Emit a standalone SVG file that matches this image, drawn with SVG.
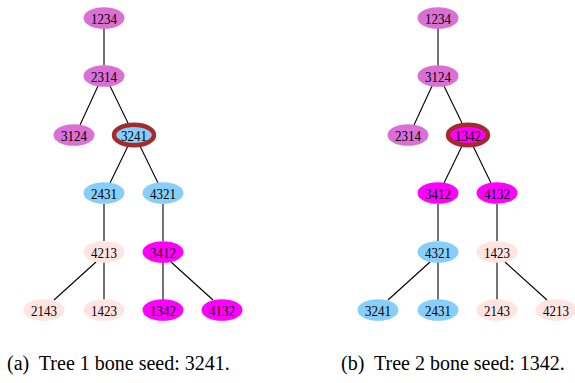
<svg xmlns="http://www.w3.org/2000/svg" width="575" height="383" viewBox="0 0 575 383">
  <style>
    .n ellipse { stroke: none; }
    .n text { font-family: "Liberation Serif", "Times New Roman", serif; font-size: 15.5px; text-anchor: middle; dominant-baseline: central; fill: #000; }
    .orchid { fill: #DA70D6; }
    .sky { fill: #87CEFA; }
    .rose { fill: #FFE4E1; }
    .mag { fill: #FF00FF; }
    .seed { stroke: #A52A2A !important; stroke-width: 4.5; }
    .edges line { stroke: #000; stroke-width: 1.1; }
    .cap { font-family: "Liberation Serif", "Times New Roman", serif; font-size: 20px; fill: #000; white-space: pre; }
  </style>

  <rect width="575" height="383" fill="#fff"/>

  <!-- Tree 1 connectors -->
  <g id="edges1" class="edges">
    <line x1="104" y1="28" x2="104" y2="66"/>
    <line x1="98" y1="86" x2="80" y2="125"/>
    <line x1="110" y1="86" x2="128" y2="123"/>
    <line x1="128" y1="146" x2="110" y2="183"/>
    <line x1="140" y1="146" x2="158" y2="183"/>
    <line x1="104" y1="204" x2="104" y2="241"/>
    <line x1="163" y1="204" x2="163" y2="241"/>
    <line x1="96" y1="262" x2="54" y2="300"/>
    <line x1="104" y1="262" x2="104" y2="300"/>
    <line x1="163" y1="262" x2="163" y2="300"/>
    <line x1="171" y1="262" x2="213" y2="300"/>
  </g>

  <!-- Tree 2 connectors -->
  <g id="edges2" class="edges">
    <line x1="438" y1="28" x2="438" y2="66"/>
    <line x1="432" y1="86" x2="414" y2="125"/>
    <line x1="444" y1="86" x2="462" y2="123"/>
    <line x1="462" y1="146" x2="444" y2="183"/>
    <line x1="473" y1="146" x2="491" y2="183"/>
    <line x1="438" y1="204" x2="438" y2="241"/>
    <line x1="497" y1="204" x2="497" y2="241"/>
    <line x1="430" y1="262" x2="388" y2="300"/>
    <line x1="438" y1="262" x2="438" y2="300"/>
    <line x1="497" y1="262" x2="497" y2="300"/>
    <line x1="505" y1="262" x2="547" y2="300"/>
  </g>

  <!-- Tree 1 nodes -->
  <g id="t1-1234" class="n"><ellipse class="orchid" cx="104" cy="18" rx="20.5" ry="10.8"/><text x="104" y="18" textLength="26" lengthAdjust="spacingAndGlyphs">1234</text></g>
  <g id="t1-2314" class="n"><ellipse class="orchid" cx="104" cy="76" rx="20.5" ry="10.8"/><text x="104" y="76" textLength="26" lengthAdjust="spacingAndGlyphs">2314</text></g>
  <g id="t1-3124" class="n"><ellipse class="orchid" cx="74" cy="135" rx="20.5" ry="10.8"/><text x="74" y="135" textLength="26" lengthAdjust="spacingAndGlyphs">3124</text></g>
  <g id="t1-3241" class="n"><ellipse class="sky seed" cx="134" cy="135" rx="20" ry="10.3"/><text x="134" y="135" textLength="26" lengthAdjust="spacingAndGlyphs">3241</text></g>
  <g id="t1-2431" class="n"><ellipse class="sky" cx="104" cy="193" rx="20.5" ry="10.8"/><text x="104" y="193" textLength="26" lengthAdjust="spacingAndGlyphs">2431</text></g>
  <g id="t1-4321" class="n"><ellipse class="sky" cx="163" cy="193" rx="20.5" ry="10.8"/><text x="163" y="193" textLength="26" lengthAdjust="spacingAndGlyphs">4321</text></g>
  <g id="t1-4213" class="n"><ellipse class="rose" cx="104" cy="252" rx="20.5" ry="10.8"/><text x="104" y="252" textLength="26" lengthAdjust="spacingAndGlyphs">4213</text></g>
  <g id="t1-3412" class="n"><ellipse class="mag" cx="163" cy="252" rx="20.5" ry="10.8"/><text x="163" y="252" textLength="26" lengthAdjust="spacingAndGlyphs">3412</text></g>
  <g id="t1-2143" class="n"><ellipse class="rose" cx="44" cy="310" rx="20.5" ry="10.8"/><text x="44" y="310" textLength="26" lengthAdjust="spacingAndGlyphs">2143</text></g>
  <g id="t1-1423" class="n"><ellipse class="rose" cx="104" cy="310" rx="20.5" ry="10.8"/><text x="104" y="310" textLength="26" lengthAdjust="spacingAndGlyphs">1423</text></g>
  <g id="t1-1342" class="n"><ellipse class="mag" cx="163" cy="310" rx="20.5" ry="10.8"/><text x="163" y="310" textLength="26" lengthAdjust="spacingAndGlyphs">1342</text></g>
  <g id="t1-4132" class="n"><ellipse class="mag" cx="222" cy="310" rx="20.5" ry="10.8"/><text x="222" y="310" textLength="26" lengthAdjust="spacingAndGlyphs">4132</text></g>

  <!-- Tree 2 nodes -->
  <g id="t2-1234" class="n"><ellipse class="orchid" cx="438" cy="18" rx="20.5" ry="10.8"/><text x="438" y="18" textLength="26" lengthAdjust="spacingAndGlyphs">1234</text></g>
  <g id="t2-3124" class="n"><ellipse class="orchid" cx="438" cy="76" rx="20.5" ry="10.8"/><text x="438" y="76" textLength="26" lengthAdjust="spacingAndGlyphs">3124</text></g>
  <g id="t2-2314" class="n"><ellipse class="orchid" cx="408" cy="135" rx="20.5" ry="10.8"/><text x="408" y="135" textLength="26" lengthAdjust="spacingAndGlyphs">2314</text></g>
  <g id="t2-1342" class="n"><ellipse class="mag seed" cx="468" cy="135" rx="20" ry="10.3"/><text x="468" y="135" textLength="26" lengthAdjust="spacingAndGlyphs">1342</text></g>
  <g id="t2-3412" class="n"><ellipse class="mag" cx="438" cy="193" rx="20.5" ry="10.8"/><text x="438" y="193" textLength="26" lengthAdjust="spacingAndGlyphs">3412</text></g>
  <g id="t2-4132" class="n"><ellipse class="mag" cx="497" cy="193" rx="20.5" ry="10.8"/><text x="497" y="193" textLength="26" lengthAdjust="spacingAndGlyphs">4132</text></g>
  <g id="t2-4321" class="n"><ellipse class="sky" cx="438" cy="252" rx="20.5" ry="10.8"/><text x="438" y="252" textLength="26" lengthAdjust="spacingAndGlyphs">4321</text></g>
  <g id="t2-1423" class="n"><ellipse class="rose" cx="497" cy="252" rx="20.5" ry="10.8"/><text x="497" y="252" textLength="26" lengthAdjust="spacingAndGlyphs">1423</text></g>
  <g id="t2-3241" class="n"><ellipse class="sky" cx="378" cy="310" rx="20.5" ry="10.8"/><text x="378" y="310" textLength="26" lengthAdjust="spacingAndGlyphs">3241</text></g>
  <g id="t2-2431" class="n"><ellipse class="sky" cx="438" cy="310" rx="20.5" ry="10.8"/><text x="438" y="310" textLength="26" lengthAdjust="spacingAndGlyphs">2431</text></g>
  <g id="t2-2143" class="n"><ellipse class="rose" cx="497" cy="310" rx="20.5" ry="10.8"/><text x="497" y="310" textLength="26" lengthAdjust="spacingAndGlyphs">2143</text></g>
  <g id="t2-4213" class="n"><ellipse class="rose" cx="556" cy="310" rx="20.5" ry="10.8"/><text x="556" y="310" textLength="26" lengthAdjust="spacingAndGlyphs">4213</text></g>

  <!-- Sub-figure captions -->
  <text class="cap" x="7" y="370">(a)  Tree 1 bone seed: 3241.</text>
  <text class="cap" x="341" y="370">(b)  Tree 2 bone seed: 1342.</text>
</svg>
